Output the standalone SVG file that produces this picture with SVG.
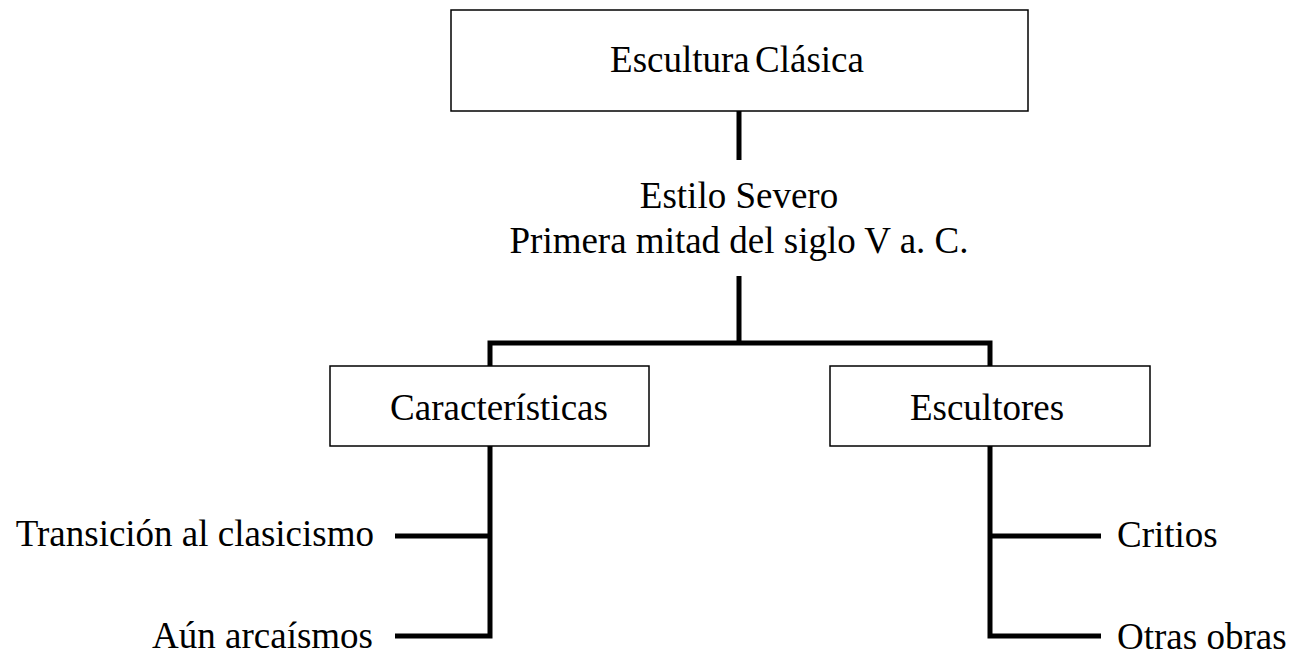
<svg xmlns="http://www.w3.org/2000/svg" width="1290" height="656" viewBox="0 0 1290 656">
<style>
.box{fill:#fff;stroke:#000;stroke-width:1.5}
.t{font-family:"Liberation Serif","Times New Roman",serif;font-size:37px;fill:#000}
.c{stroke:#000;stroke-width:5;fill:none;stroke-linecap:butt;stroke-linejoin:miter}
</style>
<rect width="1290" height="656" fill="#fff"/>
<g id="connectors">
<path class="c" d="M739 111V160"/>
<path class="c" d="M739 276V343M490 366V343H990V366"/>
<path class="c" d="M490 446V636H395M490 536H395"/>
<path class="c" d="M990 446V636H1101M990 536H1101"/>
</g>
<g id="root">
<rect class="box" x="451" y="10" width="577" height="101"/>
<text class="t" x="737" y="72" text-anchor="middle" word-spacing="-4">Escultura Clásica</text>
</g>
<g id="estilo">
<text class="t" x="739" y="208" text-anchor="middle">Estilo Severo</text>
<text class="t" x="739" y="253" text-anchor="middle">Primera mitad del siglo V a. C.</text>
</g>
<g id="caracteristicas">
<rect class="box" x="330" y="366" width="319" height="80"/>
<text class="t" x="499" y="420" text-anchor="middle">Características</text>
</g>
<g id="escultores">
<rect class="box" x="830" y="366" width="320" height="80"/>
<text class="t" x="987" y="420" text-anchor="middle">Escultores</text>
</g>
<g id="transicion"><text class="t" x="374" y="546" text-anchor="end">Transición al clasicismo</text></g>
<g id="arcaismos"><text class="t" x="373" y="648" text-anchor="end">Aún arcaísmos</text></g>
<g id="critios"><text class="t" x="1117" y="547">Critios</text></g>
<g id="otras"><text class="t" x="1117" y="649">Otras obras</text></g>
</svg>
